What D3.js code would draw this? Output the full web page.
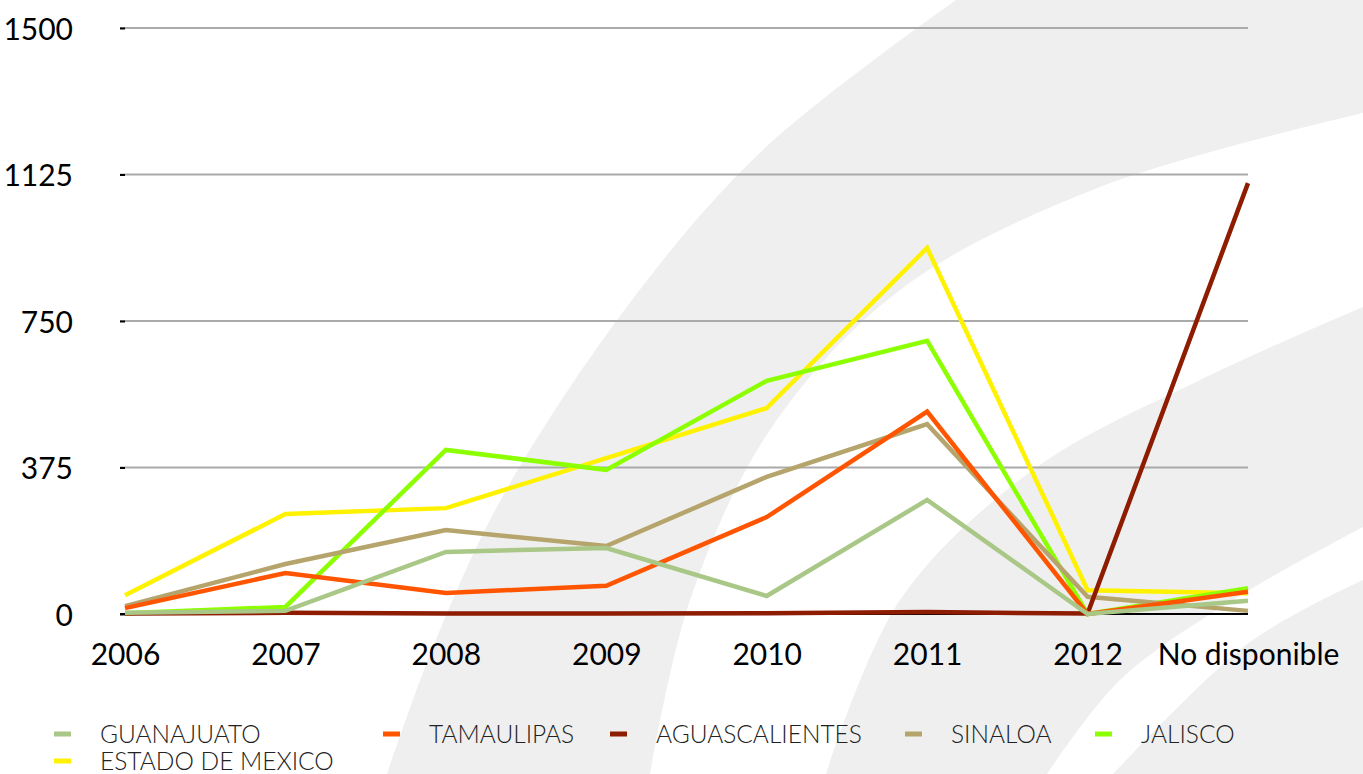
<!DOCTYPE html>
<html>
<head>
<meta charset="utf-8">
<script src="https://cdn.jsdelivr.net/npm/d3@7"></script>
<style>
  body { margin: 0; background: #fff; }
  svg { display: block; font-family: Lato, "Open Sans", sans-serif; }
</style>
</head>
<body>
<svg id="chart" width="1363" height="774"></svg>
<script>
// categories and series
var categories = ["2006", "2007", "2008", "2009", "2010", "2011", "2012", "No disponible"];
var yTicks = [0, 375, 750, 1125, 1500];

var guanajuato     = [3, 8, 159, 169, 46, 292, 0, 34];
var tamaulipas     = [15, 105, 54, 72, 248, 518, 0, 57];
var aguascalientes = [1, 3, 1, 1, 2, 5, 1, 1103];
var sinaloa        = [20, 128, 215, 174, 351, 486, 44, 8];
var jalisco        = [2, 18, 420, 369, 597, 699, 0, 66];
var estadoMexico   = [48, 256, 271, 399, 527, 937, 61, 53];

var seriesNames  = ["GUANAJUATO", "TAMAULIPAS", "AGUASCALIENTES", "SINALOA", "JALISCO", "ESTADO DE MEXICO"];
var seriesValues = [guanajuato, tamaulipas, aguascalientes, sinaloa, jalisco, estadoMexico];
var seriesColors = ["#a9c786", "#ff5500", "#8e1c00", "#b5a46b", "#8cff00", "#fff200"];

var svg = d3.select("#chart");

// decorative background arcs
var bg = svg.append("g").attr("class", "background");
var curve = d3.line().curve(d3.curveCatmullRom.alpha(0.5));
function band(outer, inner) {
  var a = curve(outer), b = curve(inner.slice().reverse());
  return a + "L" + b.slice(1) + "Z";
}
bg.append("path")
  .attr("d", band([[956, 0], [765, 148], [635, 296], [504, 494], [435, 642], [387, 774]],
                  [[1363, 113], [1100, 187], [900, 290], [770, 430], [690, 600], [650, 774]]) +
             "M956,0L1363,0L1363,113Z")
  .attr("fill", "#efefef");
bg.append("path")
  .attr("d", band([[1363, 307], [1200, 380], [1033, 470], [900, 600], [826, 774]],
                  [[1363, 527], [1233, 600], [1120, 680], [1047, 774]]))
  .attr("fill", "#efefef");
bg.append("path")
  .attr("d", curve([[1363, 580], [1250, 642], [1113, 774]]) + "L1363,774Z")
  .attr("fill", "#efefef");

var margin = {left: 125, right: 115, top: 28, bottom: 160};
var width = 1363 - margin.left - margin.right,
    height = 774 - margin.top - margin.bottom;

var x = d3.scalePoint().domain(categories).range([0, width]);
var y = d3.scaleLinear().domain([0, 1500]).range([height, 0]);

var g = svg.append("g").attr("transform", "translate(" + margin.left + "," + margin.top + ")");

// gridlines
g.append("g")
  .selectAll("line")
  .data(yTicks.filter(function (d) { return d > 0; }))
  .enter().append("line")
    .attr("x1", -5).attr("x2", width)
    .attr("y1", function (d) { return y(d); })
    .attr("y2", function (d) { return y(d); })
    .attr("stroke", "#aaaaaa")
    .attr("stroke-width", 2);

// y axis
var yAxis = g.append("g")
  .call(d3.axisLeft(y).tickValues(yTicks).tickSize(5).tickPadding(47).tickFormat(d3.format("d")));
yAxis.select(".domain").remove();
yAxis.selectAll(".tick line").attr("stroke", "#000").attr("stroke-width", 2);
yAxis.selectAll("text")
  .attr("font-size", 30)
  .attr("font-family", "Lato, sans-serif")
  .attr("fill", "#000")
  .attr("dy", "0.38em");

// x axis
var xAxis = g.append("g")
  .attr("transform", "translate(0," + height + ")")
  .call(d3.axisBottom(x).tickSize(0).tickPadding(30));
xAxis.select(".domain").remove();
xAxis.selectAll("text")
  .attr("font-size", 30)
  .attr("font-family", "Lato, sans-serif")
  .attr("fill", "#000");

g.append("line")
  .attr("x1", -5).attr("x2", width)
  .attr("y1", y(0)).attr("y2", y(0))
  .attr("stroke", "#000")
  .attr("stroke-width", 2);

// lines (first series drawn on top)
var line = d3.line()
  .x(function (d, i) { return x(categories[i]); })
  .y(function (d) { return y(d); });

for (var i = seriesValues.length - 1; i >= 0; i--) {
  g.append("path")
    .datum(seriesValues[i])
    .attr("fill", "none")
    .attr("stroke", seriesColors[i])
    .attr("stroke-width", 4.5)
    .attr("stroke-linejoin", "miter")
    .attr("d", line);
}

// legend
var legendCols = [54, 383, 610, 905, 1095];
var legend = svg.append("g").attr("class", "legend");
seriesNames.forEach(function (name, i) {
  var col = i % 5, row = Math.floor(i / 5);
  var item = legend.append("g")
    .attr("transform", "translate(" + legendCols[col] + "," + (734 + row * 27) + ")");
  item.append("line")
    .attr("x1", 0).attr("x2", 17)
    .attr("stroke", seriesColors[i])
    .attr("stroke-width", 5);
  item.append("text")
    .attr("x", 46)
    .attr("dy", "0.36em")
    .attr("font-size", 24.5)
    .attr("font-weight", 300)
    .attr("fill", "#222")
    .text(name);
});
</script>
</body>
</html>
